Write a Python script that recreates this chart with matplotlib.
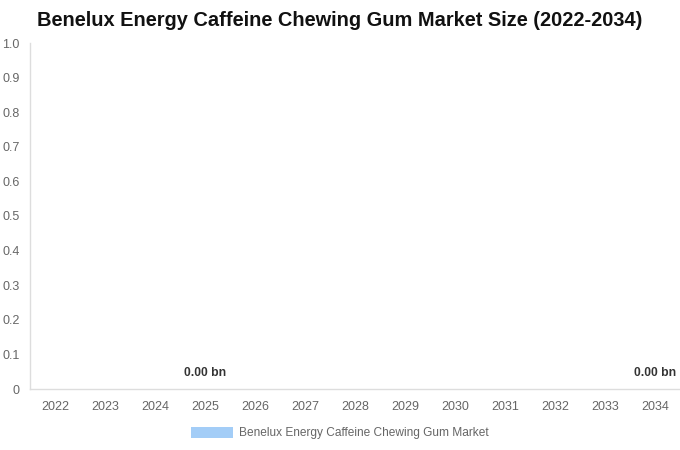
import matplotlib
matplotlib.use("Agg")
import matplotlib.pyplot as plt
from matplotlib.patches import Patch
from matplotlib.ticker import FuncFormatter

plt.rcParams['font.family'] = ['Liberation Sans', 'DejaVu Sans']

years = ['2022', '2023', '2024', '2025', '2026', '2027', '2028',
         '2029', '2030', '2031', '2032', '2033', '2034']
market_size = [0, 0, 0, 0, 0, 0, 0, 0, 0, 0, 0, 0, 0]
labelled_years = ['2025', '2034']
series_name = 'Benelux Energy Caffeine Chewing Gum Market'

bar_color = '#a3cdf7'
axis_color = '#dddddd'
tick_color = '#666666'

fig = plt.figure(figsize=(6.8, 4.5), dpi=100)
ax = fig.add_axes([30 / 680, 1 - 389 / 450, 650 / 680, 346 / 450])

x = list(range(len(years)))
ax.bar(x, market_size, width=0.6, color=bar_color)

for i, (yr, v) in enumerate(zip(years, market_size)):
    if yr in labelled_years:
        ax.annotate(f'{v:.2f} bn', (i, v), xytext=(0, 11.5), textcoords='offset points',
                    ha='center', va='center', fontsize=8.7, fontweight='bold', color='#333333')

ax.set_xlim(-0.5, len(years) - 0.5)
ax.set_ylim(0, 1.0)
ax.set_xticks(x)
ax.set_xticklabels(years)
ax.set_yticks([i / 10 for i in range(11)])
ax.yaxis.set_major_formatter(FuncFormatter(lambda v, p: '0' if v == 0 else f'{v:.1f}'))
ax.tick_params(axis='both', length=0, labelsize=9, colors=tick_color)
ax.tick_params(axis='x', pad=8.5)
ax.tick_params(axis='y', pad=7.5)

for side in ['top', 'right']:
    ax.spines[side].set_visible(False)
for side in ['left', 'bottom']:
    ax.spines[side].set_color(axis_color)
    ax.spines[side].set_linewidth(1)

fig.text(340 / 680, 1 - 21 / 450, 'Benelux Energy Caffeine Chewing Gum Market Size (2022-2034)',
         ha='center', va='center', fontsize=14.4, fontweight='bold', color='#111111')

handle = Patch(facecolor=bar_color, edgecolor='none')
fig.legend([handle], [series_name], loc='center', bbox_to_anchor=(340 / 680, 1 - 433 / 450),
           frameon=False, fontsize=8.6, labelcolor=tick_color, handlelength=3.5, handleheight=1.05,
           handletextpad=0.5)

fig.savefig('out.png', dpi=100)
